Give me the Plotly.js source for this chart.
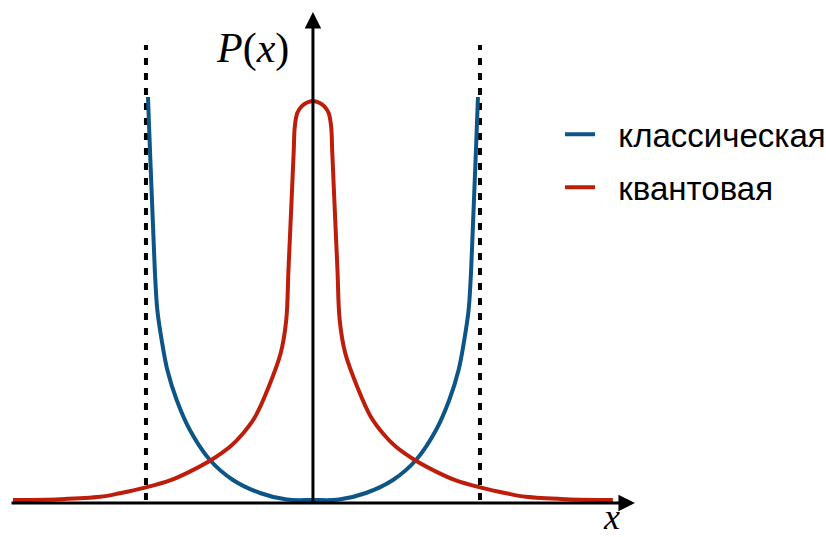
<!DOCTYPE html>
<html>
<head>
<meta charset="utf-8">
<script src="https://cdn.plot.ly/plotly-3.0.1.min.js"></script>
<style>html,body{margin:0;padding:0;background:#fff;}#chart{width:826px;height:537px;}</style>
</head>
<body>
<div id="chart"></div>
<script>
// Classical probability density (blue), x in units of the turning point
const classicalX = [-0.988,-0.976,-0.964,-0.952,-0.944,-0.932,-0.906,-0.872,-0.816,-0.737,-0.617,-0.479,-0.317,-0.156,0,
                     0.156,0.317,0.479,0.617,0.737,0.816,0.872,0.906,0.932,0.944,0.952,0.964,0.976,0.988];
const classicalY = [1.0075,0.875,0.75,0.625,0.55,0.475,0.40,0.325,0.25,0.175,0.10,0.05,0.0175,0.001,0,
                    0.001,0.0175,0.05,0.10,0.175,0.25,0.325,0.40,0.475,0.55,0.625,0.75,0.875,1.0075];
// Quantum probability density (red)
const quantumX = [-1.796,-1.515,-1.275,-1.156,-1.006,-0.856,-0.737,-0.617,-0.497,-0.427,-0.347,-0.268,-0.193,-0.160,-0.1467,-0.128,-0.115,-0.109,-0.094,-0.068,-0.038,0,
                   0.038,0.068,0.094,0.109,0.115,0.128,0.1467,0.160,0.193,0.268,0.347,0.427,0.497,0.617,0.737,0.856,1.006,1.156,1.275,1.515,1.796];
const quantumY = [0.0,0.002,0.008,0.017,0.031,0.049,0.071,0.098,0.133,0.1625,0.2075,0.28,0.3675,0.45,0.575,0.75,0.875,0.9325,0.9675,0.984,0.993,0.9975,
                  0.993,0.984,0.9675,0.9325,0.875,0.75,0.575,0.45,0.3675,0.28,0.2075,0.1625,0.133,0.098,0.071,0.049,0.031,0.017,0.008,0.002,0.0];
// Turning points (dashed lines)
const turningX = [-1, 1];
const turningTop = 1.1375;
const seriesNames = ['классическая', 'квантовая'];

const blue = '#0e5587';
const red = '#bd1e0b';

const traces = [];
turningX.forEach(tx => traces.push({
  x: [tx, tx], y: [0, turningTop], mode: 'lines', showlegend: false, hoverinfo: 'skip',
  line: {color: '#000', width: 4, dash: '7px,8px'}
}));
traces.push({
  x: classicalX, y: classicalY, mode: 'lines', name: '\u00a0\u00a0' + seriesNames[0],
  legendgroup: 'a', line: {color: blue, width: 4, shape: 'spline', smoothing: 1}
});
traces.push({
  x: quantumX, y: quantumY, mode: 'lines', name: '\u00a0\u00a0' + seriesNames[1],
  legendgroup: 'b', line: {color: red, width: 4, shape: 'spline', smoothing: 1}
});

const layout = {
  width: 826, height: 537,
  margin: {l: 0, r: 0, t: 0, b: 0, autoexpand: false},
  paper_bgcolor: '#fff', plot_bgcolor: '#fff',
  xaxis: {range: [-1.874, 3.072], visible: false, fixedrange: true},
  yaxis: {range: [-0.0925, 1.25], visible: false, fixedrange: true},
  showlegend: true,
  legend: {
    x: 0.678, y: 0.802, xanchor: 'left', yanchor: 'top',
    font: {family: 'Liberation Sans, Arial, sans-serif', size: 33, color: '#000'},
    tracegroupgap: 7, bgcolor: 'rgba(0,0,0,0)', itemwidth: 30
  },
  annotations: [
    {x: 1.928, y: -0.0075, ax: -1.814, ay: -0.0075, xref: 'x', yref: 'y', axref: 'x', ayref: 'y',
     text: '', showarrow: true, arrowhead: 2, arrowsize: 1.1, arrowwidth: 3, arrowcolor: '#000', standoff: 0},
    {x: 0, y: 1.22, ax: 0, ay: -0.0075, xref: 'x', yref: 'y', axref: 'x', ayref: 'y',
     text: '', showarrow: true, arrowhead: 2, arrowsize: 1.1, arrowwidth: 3, arrowcolor: '#000', standoff: 0},
    {x: -0.365, y: 1.13, xref: 'x', yref: 'y', showarrow: false,
     text: '<i>P</i>(<i>x</i>)',
     font: {family: 'Liberation Serif, Times New Roman, serif', size: 42, color: '#000'}},
    {x: 1.79, y: -0.042, xref: 'x', yref: 'y', showarrow: false,
     text: '<i>x</i>',
     font: {family: 'Liberation Serif, Times New Roman, serif', size: 36, color: '#000'}}
  ]
};

Plotly.newPlot('chart', traces, layout, {displayModeBar: false, staticPlot: true});
</script>
</body>
</html>
